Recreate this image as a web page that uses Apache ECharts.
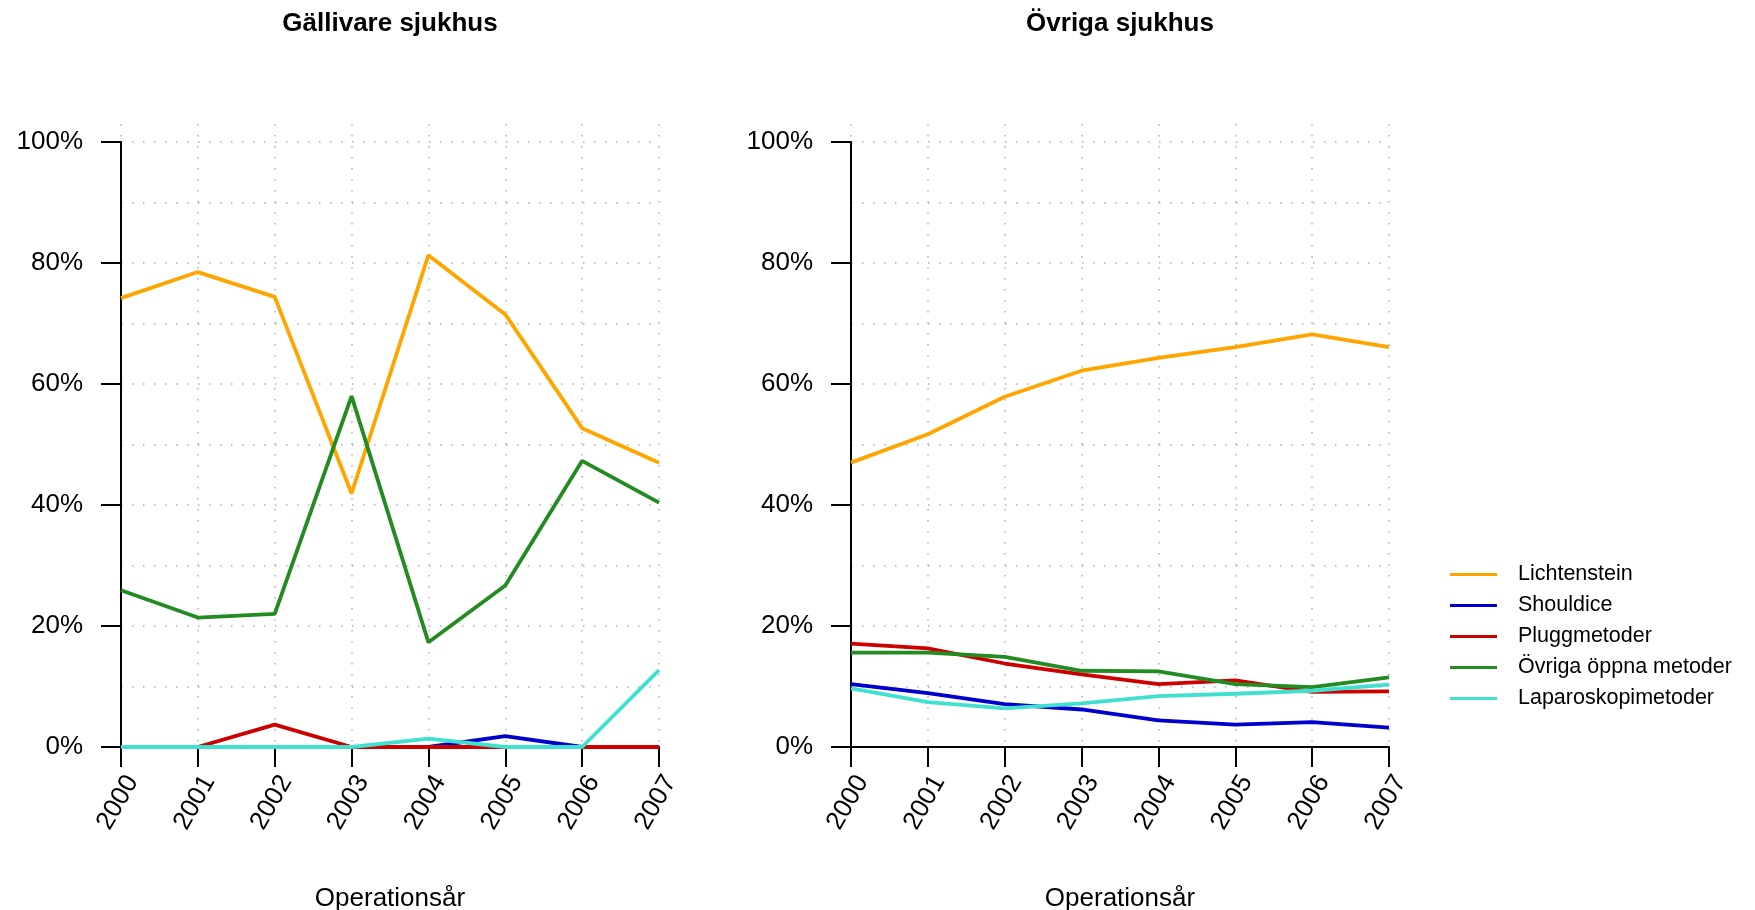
<!DOCTYPE html>
<html>
<head>
<meta charset="utf-8">
<script src="https://cdn.jsdelivr.net/npm/echarts@6/dist/echarts.min.js"></script>
<style>
html,body{margin:0;padding:0;background:#fff;}
#chart{width:1755px;height:910px;}
</style>
</head>
<body>
<div id="chart"></div>
<script>
const years = ['2000','2001','2002','2003','2004','2005','2006','2007'];
const seriesNames = ['Lichtenstein','Shouldice','Pluggmetoder','Övriga öppna metoder','Laparoskopimetoder'];
const seriesColors = ['#FFA500','#0000CD','#CD0000','#228B22','#40E0D0'];
const panelTitles = ['Gällivare sjukhus','Övriga sjukhus'];
const xAxisTitle = 'Operationsår';
const yTicks = [0,20,40,60,80,100];

// Gällivare sjukhus (%)
const gLichtenstein = [74.2, 78.5, 74.4, 41.9, 81.3, 71.5, 52.7, 47.0];
const gShouldice    = [0, 0, 0, 0, 0, 1.8, 0, 0];
const gPlugg        = [0, 0, 3.7, 0, 0, 0, 0, 0];
const gOvriga       = [25.9, 21.4, 22.0, 58.0, 17.3, 26.7, 47.3, 40.4];
const gLaparo       = [0, 0, 0, 0, 1.4, 0, 0, 12.7];

// Övriga sjukhus (%)
const oLichtenstein = [47.0, 51.7, 57.9, 62.2, 64.3, 66.1, 68.2, 66.1];
const oShouldice    = [10.4, 8.9, 7.1, 6.2, 4.4, 3.7, 4.1, 3.2];
const oPlugg        = [17.1, 16.3, 13.8, 12.0, 10.4, 11.0, 9.1, 9.2];
const oOvriga       = [15.6, 15.6, 14.9, 12.6, 12.5, 10.4, 9.9, 11.5];
const oLaparo       = [9.7, 7.4, 6.4, 7.2, 8.4, 8.8, 9.3, 10.3];

const panels = [
  [gLichtenstein, gShouldice, gPlugg, gOvriga, gLaparo],
  [oLichtenstein, oShouldice, oPlugg, oOvriga, oLaparo]
];

const FONT = '"Liberation Sans", Arial, Helvetica, sans-serif';
const dotted = {color:'#b0b0b0', width:1.5, type:[1.5,9.5]};
const gridPos = [
  {left:121, right:1096, top:142, bottom:163},
  {left:851, right:366, top:142, bottom:163}
];

const grids = [], xAxes = [], yAxes = [], series = [], titles = [];
gridPos.forEach((g) => {
  grids.push(Object.assign({containLabel:false, outerBoundsMode:'none'}, g));
  grids.push({left:g.left, right:g.right, top:124, bottom:g.bottom, containLabel:false, outerBoundsMode:'none'});
});

for (let p = 0; p < 2; p++) {
  const mainIdx = p*2, bgIdx = p*2+1;
  xAxes.push({
    gridIndex: mainIdx, type:'category', data: years, boundaryGap:false,
    axisLine:{show:true, onZero:false, lineStyle:{color:'#000', width:2}},
    axisTick:{show:true, length:20, alignWithLabel:true, lineStyle:{color:'#000', width:2}},
    axisLabel:{show:true, rotate:60, margin:24, verticalAlign:'top', fontSize:26, color:'#000', fontFamily:FONT, interval:0},
    splitLine:{show:false},
    name: xAxisTitle, nameLocation:'middle', nameGap:139,
    nameTextStyle:{fontSize:26, color:'#000', fontFamily:FONT}
  });
  xAxes.push({
    gridIndex: bgIdx, type:'category', data: years, boundaryGap:false,
    axisLine:{show:false}, axisTick:{show:false}, axisLabel:{show:false},
    splitLine:{show:true, lineStyle:dotted}
  });
  yAxes.push({
    gridIndex: mainIdx, type:'value', min:yTicks[0], max:yTicks[yTicks.length-1], interval:20,
    axisLine:{show:true, lineStyle:{color:'#000', width:2}},
    axisTick:{show:true, length:20, lineStyle:{color:'#000', width:2}},
    axisLabel:{show:true, margin:38, fontSize:26, color:'#000', fontFamily:FONT, formatter:'{value}%'},
    splitLine:{show:true, lineStyle:dotted},
    minorTick:{show:false, splitNumber:2},
    minorSplitLine:{show:true, lineStyle:dotted}
  });
  yAxes.push({
    gridIndex: bgIdx, type:'value', min:0, max:100, show:false,
    splitLine:{show:false}
  });
  panels[p].forEach((arr, i) => {
    series.push({
      name: seriesNames[i], type:'line', data: arr,
      xAxisIndex: mainIdx, yAxisIndex: mainIdx,
      showSymbol:false, symbol:'none', smooth:false, animation:false,
      lineStyle:{color:seriesColors[i], width:3.8},
      itemStyle:{color:seriesColors[i]},
      z: 2 + i
    });
  });
  titles.push({
    text: panelTitles[p],
    left: (p === 0 ? 385 : 1115),
    top: 6, textAlign:'center',
    textStyle:{fontSize:26, fontWeight:'bold', color:'#000', fontFamily:FONT}
  });
}

const chart = echarts.init(document.getElementById('chart'), null, {renderer:'canvas'});
chart.setOption({
  animation:false,
  backgroundColor:'#fff',
  title: titles,
  grid: grids,
  xAxis: xAxes,
  yAxis: yAxes,
  legend:{
    orient:'vertical', left:1445, top:558,
    data: seriesNames, icon:'rect', itemWidth:47, itemHeight:3, itemGap:8,
    selectedMode:false,
    textStyle:{fontSize:21.5, color:'#000', fontFamily:FONT, padding:[0,0,0,16], lineHeight:23}
  },
  series: series
});
</script>
</body>
</html>
